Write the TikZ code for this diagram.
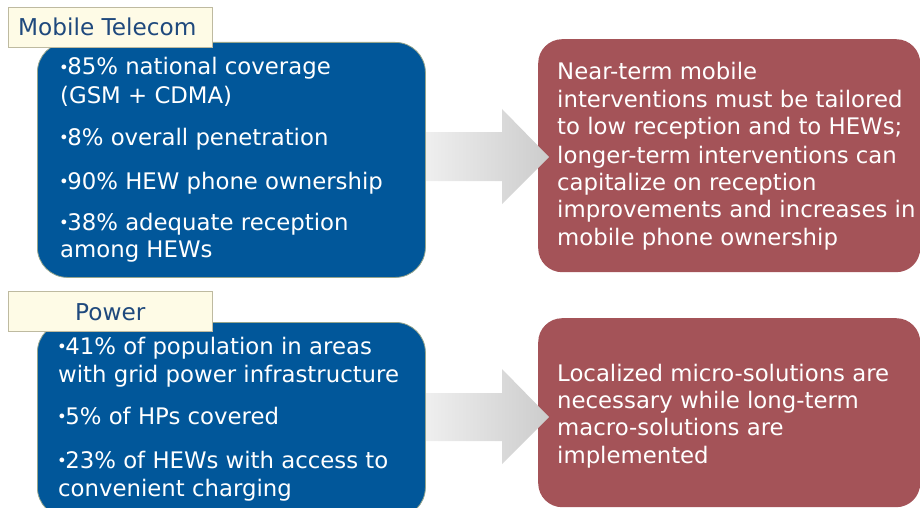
\documentclass[tikz,border=0pt]{standalone}
\usepackage{fontspec}
\setmainfont{DejaVu Sans}
\definecolor{boxblue}{RGB}{1,87,154}
\definecolor{bluebord}{RGB}{150,165,140}
\definecolor{boxred}{RGB}{164,83,88}
\definecolor{labfill}{RGB}{254,251,230}
\definecolor{labbord}{RGB}{190,186,160}
\definecolor{labtext}{RGB}{31,73,125}
\definecolor{arrowlight}{RGB}{246,246,246}
\definecolor{arrowdark}{RGB}{204,204,204}
\newcommand{\mybul}{\kern-1pt\raisebox{0.06em}{\scalebox{0.72}{•}}\kern-1.5pt}
\begin{document}
\begin{tikzpicture}[x=1pt,y=-1pt,
  bluebox/.style={draw=bluebord, line width=0.8pt, fill=boxblue, rounded corners=30pt, inner sep=0pt, anchor=north west},
  redbox/.style={fill=boxred, rounded corners=24pt, inner sep=0pt, anchor=north west},
  labelbox/.style={draw=labbord, fill=labfill, line width=0.8pt, inner sep=0pt, anchor=north west, minimum width=204pt, minimum height=40pt},
  wtxt/.style={text=white, font=\fontsize{22.8}{27.5}\selectfont, anchor=base west, inner sep=0pt},
  labtxt/.style={text=labtext, font=\fontsize{23.2}{28}\selectfont, anchor=base west, inner sep=0pt},
  arrowshade/.style={left color=arrowlight, right color=arrowdark, draw=none}]
\useasboundingbox (0,0) rectangle (920,508);
\begin{scope}
\clip (0,0) rectangle (920,508);
% red boxes
\node[redbox, minimum width=382pt, minimum height=233pt] (r1) at (538,39) {};
\node[redbox, minimum width=382pt, minimum height=189pt] (r2) at (538,318) {};
% arrows
\shade[arrowshade] (400,132) -- (502,132) -- (502,109) -- (549,157) -- (502,204) -- (502,181) -- (400,181) -- cycle;
\shade[arrowshade] (400,393) -- (502,393) -- (502,369) -- (549,417) -- (502,464) -- (502,441) -- (400,441) -- cycle;
% blue boxes
\node[bluebox, minimum width=388pt, minimum height=235pt] (b1) at (37,42) {};
\node[bluebox, minimum width=388pt, minimum height=195pt] (b2) at (37,322) {};
% label boxes
\node[labelbox] (l1) at (8,7) {};
\node[labelbox] (l2) at (8,291) {};
\end{scope}
\node[labtxt] (l1t) at (18,36) {Mobile Telecom};
\node[labtxt] (l2t) at (75,320) {Power};
% top blue text
\node[wtxt] (a1) at (60,75) {\mybul 85\% national coverage};
\node[wtxt] (a2) at (60,104) {(GSM + CDMA)};
\node[wtxt] (a3) at (60,145) {\mybul 8\% overall penetration};
\node[wtxt] (a4) at (60,189) {\mybul 90\% HEW phone ownership};
\node[wtxt] (a5) at (60,230) {\mybul 38\% adequate reception};
\node[wtxt] (a6) at (60,257) {among HEWs};
% top red text
\node[wtxt] (c1) at (557,80) {Near-term mobile};
\node[wtxt] (c2) at (557,108) {interventions must be tailored};
\node[wtxt] (c3) at (557,135) {to low reception and to HEWs;};
\node[wtxt] (c4) at (557,163) {longer-term interventions can};
\node[wtxt] (c5) at (557,190) {capitalize on reception};
\node[wtxt] (c6) at (557,217) {improvements and increases in};
\node[wtxt] (c7) at (557,245) {mobile phone ownership};
% bottom blue text
\node[wtxt] (d1) at (58,354) {\mybul 41\% of population in areas};
\node[wtxt] (d2) at (58,382) {with grid power infrastructure};
\node[wtxt] (d3) at (58,424) {\mybul 5\% of HPs covered};
\node[wtxt] (d4) at (58,468) {\mybul 23\% of HEWs with access to};
\node[wtxt] (d5) at (58,496) {convenient charging};
% bottom red text
\node[wtxt] (e1) at (557,381) {Localized micro-solutions are};
\node[wtxt] (e2) at (557,408) {necessary while long-term};
\node[wtxt] (e3) at (557,435) {macro-solutions are};
\node[wtxt] (e4) at (557,463) {implemented};
\end{tikzpicture}
\end{document}
